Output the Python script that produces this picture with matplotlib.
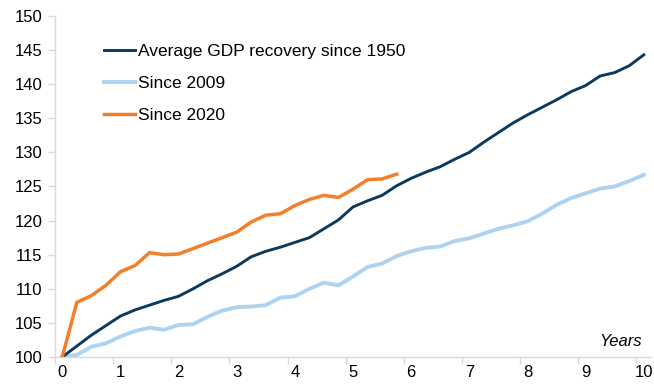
import numpy as np
import matplotlib
matplotlib.use('Agg')
import matplotlib.pyplot as plt

plt.rcParams['font.family'] = ['Liberation Sans', 'DejaVu Sans']

# dados trimestrais (anos desde o início da recuperação)
anos_longos = np.arange(41) * 0.25
anos_2020 = np.arange(24) * 0.25

media_1950 = [100.0, 101.6, 103.2, 104.6, 106.0, 106.9, 107.6, 108.3, 108.9, 110.0,
              111.2, 112.2, 113.3, 114.7, 115.5, 116.1, 116.8, 117.5, 118.8, 120.1,
              122.0, 122.9, 123.7, 125.1, 126.2, 127.1, 127.9, 129.0, 130.0, 131.5,
              132.9, 134.3, 135.5, 136.6, 137.7, 138.9, 139.8, 141.2, 141.7, 142.7,
              144.3]
desde_2009 = [100.0, 100.3, 101.5, 102.0, 103.0, 103.8, 104.3, 104.0, 104.7, 104.8,
              105.9, 106.8, 107.3, 107.4, 107.6, 108.7, 108.9, 110.0, 110.9, 110.5,
              111.8, 113.2, 113.7, 114.8, 115.5, 116.0, 116.2, 117.0, 117.4, 118.1,
              118.8, 119.3, 119.9, 121.0, 122.3, 123.3, 124.0, 124.7, 125.0, 125.8,
              126.7]
desde_2020 = [100.0, 108.0, 109.0, 110.5, 112.5, 113.4, 115.3, 115.0, 115.1, 115.9,
              116.7, 117.5, 118.3, 119.8, 120.8, 121.0, 122.2, 123.1, 123.7, 123.4,
              124.6, 126.0, 126.1, 126.8]

nomes = ['Average GDP recovery since 1950', 'Since 2009', 'Since 2020']
cores = ['#0c3a5e', '#aed3f1', '#f47f2a']

fig = plt.figure(figsize=(6.54, 3.87), dpi=100)
ax = fig.add_axes([0.0841, 0.0775, 0.9113, 0.8812])

ax.plot(anos_longos, media_1950, color=cores[0], lw=2.1, label=nomes[0], zorder=3)
ax.plot(anos_longos, desde_2009, color=cores[1], lw=2.8, label=nomes[1], zorder=2)
ax.plot(anos_2020, desde_2020, color=cores[2], lw=2.5, label=nomes[2], zorder=4)

ax.set_xlim(-0.125, 10.125)
ax.set_ylim(100, 150)
ax.set_yticks(np.arange(100, 151, 5))
ax.set_xticks(np.arange(0, 11))
ax.set_xticks(np.arange(0, 11) - 0.125, minor=True)

cinza = '#d9d9d9'
for lado in ['top', 'right']:
    ax.spines[lado].set_visible(False)
for lado in ['left', 'bottom']:
    ax.spines[lado].set_color(cinza)
    ax.spines[lado].set_linewidth(1.0)

ax.tick_params(axis='x', which='major', length=0, pad=6, labelsize=12)
ax.tick_params(axis='x', which='minor', length=5, color=cinza, width=1.0)
ax.tick_params(axis='y', length=5, color=cinza, width=1.0, pad=4, labelsize=12)

ax.text(0.985, 0.045, 'Years', transform=ax.transAxes, ha='right', va='center',
        fontsize=12, style='italic')

leg = ax.legend(loc='upper left', bbox_to_anchor=(0.071, 0.938), frameon=False,
                fontsize=12.5, handlelength=1.75, handletextpad=0.2,
                labelspacing=0.97, borderaxespad=0)

fig.savefig('out.png', dpi=100)
